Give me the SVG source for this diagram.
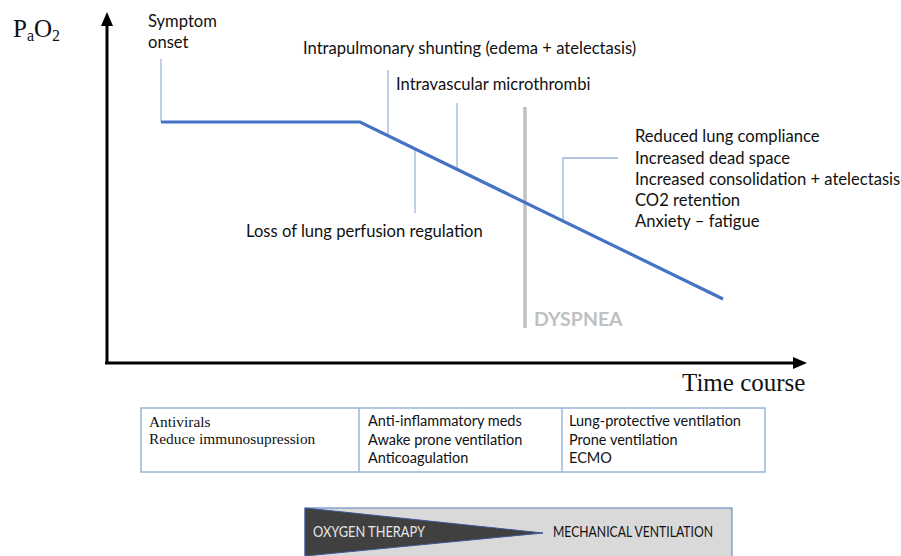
<svg xmlns="http://www.w3.org/2000/svg" width="901" height="556" viewBox="0 0 901 556">
<defs>
<style>
.c{font-family:Lato,"Liberation Sans",sans-serif;font-size:16.6px;fill:#111}
.t{font-family:"Liberation Serif",serif;fill:#111}
.tk{stroke:#9db4dd;stroke-width:1.3;fill:none}
.ax{stroke:#000;stroke-width:3;fill:none}
.cell{font-family:Lato,"Liberation Sans",sans-serif;font-size:14.5px;fill:#111}
</style>
</defs>
<rect width="901" height="556" fill="#fff"/>
<g id="axes">
<line class="ax" x1="107" y1="364" x2="107" y2="24"/>
<polygon points="107,12 101,26 113,26" fill="#000"/>
<line class="ax" x1="105" y1="363" x2="794" y2="363"/>
<polygon points="807,363 793,357 793,369" fill="#000"/>
</g>
<g id="y-label"><text class="t" x="13" y="37" font-size="25">P<tspan font-size="16" dy="4">a</tspan><tspan dy="-4">O</tspan><tspan font-size="16" dy="4">2</tspan></text></g>
<g id="x-label"><text class="t" x="682" y="391" font-size="25">Time course</text></g>
<g id="connectors">
<line class="tk" x1="161" y1="59" x2="161" y2="122"/>
<line class="tk" x1="388" y1="70" x2="388" y2="136"/>
<line class="tk" x1="415" y1="149" x2="415" y2="213"/>
<line class="tk" x1="457" y1="103" x2="457" y2="169"/>
<polyline class="tk" points="618,158 563,158 563,221"/>
<line x1="525" y1="107" x2="525" y2="328" stroke="#c0c0c0" stroke-width="3.5"/>
<polyline points="161,122 360,122 723,299" fill="none" stroke="#4472c4" stroke-width="3.2" stroke-linejoin="miter"/>
</g>
<g id="symptom-onset"><text class="c" x="148" y="27">Symptom</text><text class="c" x="148" y="48">onset</text></g>
<g id="shunting"><text class="c" x="303" y="54">Intrapulmonary shunting (edema + atelectasis)</text></g>
<g id="microthrombi"><text class="c" x="396" y="90">Intravascular microthrombi</text></g>
<g id="perfusion"><text class="c" x="246" y="237">Loss of lung perfusion regulation</text></g>
<g id="dyspnea"><text x="534" y="326" font-family="Lato,'Liberation Sans',sans-serif" font-size="19.5" font-weight="bold" fill="#c0c0c0">DYSPNEA</text></g>
<g id="late-effects">
<text class="c" x="635" y="142">Reduced lung compliance</text>
<text class="c" x="635" y="164">Increased dead space</text>
<text class="c" x="635" y="185">Increased consolidation + atelectasis</text>
<text class="c" x="635" y="206">CO2 retention</text>
<text class="c" x="635" y="227">Anxiety – fatigue</text>
</g>
<g id="treatments">
<rect x="141" y="408" width="624" height="64" fill="#fff" stroke="#9db4dd" stroke-width="1.5"/>
<line x1="359" y1="408" x2="359" y2="472" stroke="#9db4dd" stroke-width="1.5"/>
<line x1="562" y1="408" x2="562" y2="472" stroke="#9db4dd" stroke-width="1.5"/>
<text class="t" x="149" y="427" font-size="15.4">Antivirals</text>
<text class="t" x="149" y="444" font-size="15.4">Reduce immunosupression</text>
<text class="cell" x="368" y="426">Anti-inflammatory meds</text>
<text class="cell" x="368" y="445">Awake prone ventilation</text>
<text class="cell" x="368" y="463">Anticoagulation</text>
<text class="cell" x="569" y="426">Lung-protective ventilation</text>
<text class="cell" x="569" y="445">Prone ventilation</text>
<text class="cell" x="569" y="463">ECMO</text>
</g>
<g id="support">
<rect x="305" y="508" width="427" height="60" fill="#d9d9d9" stroke="#6f8fc8" stroke-width="1.2"/>
<polygon points="305,508 543,533 305,556" fill="#404040" stroke="#3a5a9a" stroke-width="1"/>
<text x="313" y="537" font-family="Lato,'Liberation Sans',sans-serif" font-size="15.5" fill="#e6e6e6" textLength="112" lengthAdjust="spacingAndGlyphs">OXYGEN THERAPY</text>
<text x="553" y="537" font-family="Lato,'Liberation Sans',sans-serif" font-size="15.5" fill="#111" textLength="160" lengthAdjust="spacingAndGlyphs">MECHANICAL VENTILATION</text>
</g>
</svg>
